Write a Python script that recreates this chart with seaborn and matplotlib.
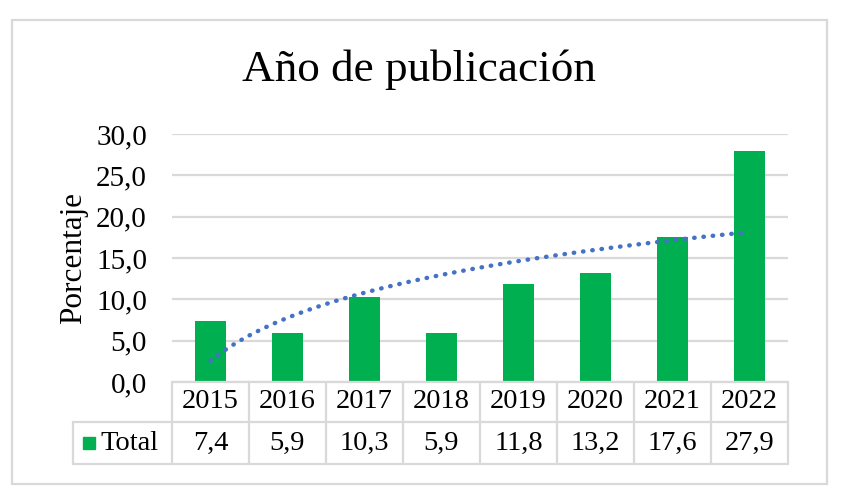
import numpy as np
import pandas as pd
import matplotlib
matplotlib.use("Agg")
import matplotlib.pyplot as plt
from matplotlib.patches import Rectangle
import seaborn as sns

# ---- data ----
years = ["2015", "2016", "2017", "2018", "2019", "2020", "2021", "2022"]
totals = [7.4, 5.9, 10.3, 5.9, 11.8, 13.2, 17.6, 27.9]
value_labels = ["7,4", "5,9", "10,3", "5,9", "11,8", "13,2", "17,6", "27,9"]
yticks = [0, 5, 10, 15, 20, 25, 30]
ytick_labels = ["0,0", "5,0", "10,0", "15,0", "20,0", "25,0", "30,0"]
series_name = "Total"
title = "Año de publicación"
ylabel = "Porcentaje"

GREEN = "#00B050"
BLUE = "#4472C4"
GRID = "#D9D9D9"
TXT = "#000000"

sns.set_style("white")
plt.rcParams["font.family"] = ["Liberation Serif", "DejaVu Serif"]

df = pd.DataFrame({"idx": np.arange(1, len(years) + 1), "year": years, "total": totals})

W, H = 845, 504
fig = plt.figure(figsize=(W / 100, H / 100), dpi=100)
left_px, right_px, top_px, zero_px = 172, 788, 134, 382
ax = fig.add_axes([left_px / W, 1 - zero_px / H, (right_px - left_px) / W, (zero_px - top_px) / H])

# chart border
fig.patches.append(Rectangle((12 / W, 1 - 484 / H), 815 / W, 464 / H, transform=fig.transFigure,
                             fill=False, edgecolor=GRID, linewidth=1.6, zorder=0))

sns.barplot(data=df, x="idx", y="total", native_scale=True, color=GREEN, saturation=1,
            width=0.4, ax=ax, zorder=3, linewidth=0)
sns.regplot(data=df, x="idx", y="total", logx=True, ci=None, scatter=False, truncate=True, ax=ax,
            line_kws=dict(color=BLUE, linewidth=3.2, linestyle=(0, (0.1, 2.0)),
                          dash_capstyle="round", zorder=4))

ax.set_xlim(0.5, len(years) + 0.5)
ax.set_ylim(0, 30)
ax.set_yticks(yticks)
ax.set_yticklabels(ytick_labels, fontsize=21, color=TXT)
ax.tick_params(axis="y", length=0, pad=18)
ax.set_xticks([])
ax.set_xlabel("")
ax.set_ylabel(ylabel, fontsize=22.5, color=TXT, labelpad=6)
ax.yaxis.grid(True, color=GRID, linewidth=1.6, zorder=0)
ax.set_axisbelow(True)
for s in ax.spines.values():
    s.set_visible(False)

fig.text(419 / W, 1 - 70 / H, title, fontsize=32.5, ha="center", va="center", color=TXT)

# ---- data table ----
axh_px = zero_px - top_px
r1 = -(422 - zero_px) / axh_px
r2 = -(464 - zero_px) / axh_px
xt = ax.get_xaxis_transform()
lk = dict(color=GRID, linewidth=1.6, clip_on=False, transform=xt, zorder=5)
n = len(years)
ax.plot([0.5, n + 0.5], [0, 0], **lk)
for b in np.arange(0.5, n + 1, 1.0):
    ax.plot([b, b], [0, r2], **lk)
legend_left = (73 - left_px) / (right_px - left_px)
ta = ax.transAxes
ax.plot([legend_left, 1], [r1, r1], color=GRID, linewidth=1.6, clip_on=False, transform=ta, zorder=5)
ax.plot([legend_left, 1], [r2, r2], color=GRID, linewidth=1.6, clip_on=False, transform=ta, zorder=5)
ax.plot([legend_left, legend_left], [r1, r2], color=GRID, linewidth=1.6, clip_on=False, transform=ta, zorder=5)

for i, (yr, vl) in enumerate(zip(years, value_labels)):
    x = i + 1
    ax.text(x, r1 / 2, yr, transform=xt, ha="center", va="center", fontsize=20.5, color=TXT, clip_on=False)
    ax.text(x, (r1 + r2) / 2, vl, transform=xt, ha="center", va="center", fontsize=20.5, color=TXT, clip_on=False)

# legend key
key_x = (83 - left_px) / (right_px - left_px)
key_w = 12 / (right_px - left_px)
key_h = 12 / axh_px
ymid = (r1 + r2) / 2
ax.add_patch(Rectangle((key_x, ymid - key_h / 2), key_w, key_h, transform=ta, color=GREEN, clip_on=False))
ax.text((100 - left_px) / (right_px - left_px), ymid, series_name, transform=ta, ha="left", va="center",
        fontsize=20.5, color=TXT, clip_on=False)

fig.savefig("out.png", dpi=100, facecolor="white")
